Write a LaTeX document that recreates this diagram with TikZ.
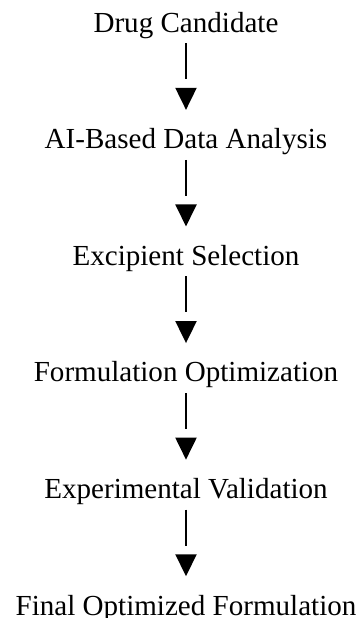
\documentclass[tikz,border=0pt]{standalone}
\usepackage{fontspec}
\setmainfont{Liberation Serif}
\usetikzlibrary{arrows.meta}
\tikzset{
    stage/.style={inner sep=0pt, anchor=base, text height=14.6pt, text depth=0pt,
        font=\fontsize{21.8}{26}\selectfont},
    flow/.style={line width=1.5pt, shorten <=8.25pt, shorten >=14.25pt,
        dash pattern=on 27pt off 40pt,
        -{Triangle[length=16.5pt, width=15.75pt]}},
}

\begin{document}
\begin{tikzpicture}[x=0.75pt, y=-0.75pt]
\useasboundingbox (0,0) rectangle (358,618);

\node[stage] (cand) at (186,32) {Drug Candidate};
\node[stage] (ai) at (186,148.6) {AI-Based Data Analysis};
\node[stage] (excip) at (186,265.2) {Excipient Selection};
\node[stage] (optim) at (186,381.8) {Formulation Optimization};
\node[stage] (valid) at (186,498.4) {Experimental Validation};
\node[stage] (final) at (186,615) {Final Optimized Formulation};

\draw[flow] (cand.south) -- (ai.north);
\draw[flow] (ai.south) -- (excip.north);
\draw[flow] (excip.south) -- (optim.north);
\draw[flow] (optim.south) -- (valid.north);
\draw[flow] (valid.south) -- (final.north);
\end{tikzpicture}
\end{document}
